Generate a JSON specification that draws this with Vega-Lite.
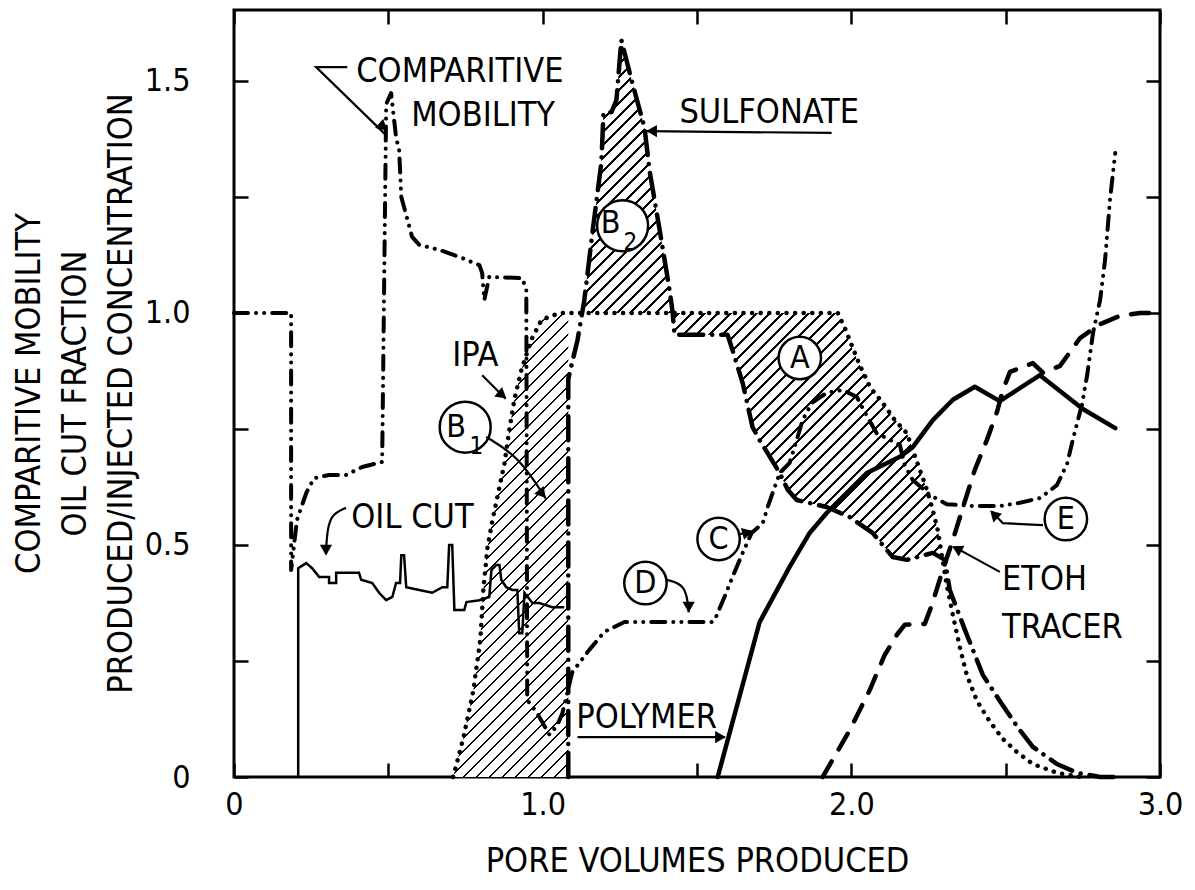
{
"$schema":"https://vega.github.io/schema/vega-lite/v6.json",
"width":926,"height":767,
"autosize":{"type":"none"},
"padding":{"left":234,"top":10,"right":35,"bottom":113},
"background":"white",
"config":{"view":{"stroke":"#000","strokeWidth":3},"font":"Liberation Sans Narrow, DejaVu Sans Condensed, Liberation Sans, sans-serif"},
"datasets":{
"b1":[{"x":0.710,"y":0,"y2":0},{"x":0.743,"y":0.084,"y2":0},{"x":0.775,"y":0.185,"y2":0},{"x":0.798,"y":0.295,"y2":0},{"x":0.808,"y":0.405,"y2":0},{"x":0.821,"y":0.494,"y2":0},{"x":0.837,"y":0.552,"y2":0},{"x":0.860,"y":0.625,"y2":0},{"x":0.876,"y":0.675,"y2":0},{"x":0.892,"y":0.748,"y2":0},{"x":0.908,"y":0.8125,"y2":0},{"x":0.931,"y":0.877,"y2":0},{"x":0.963,"y":0.942,"y2":0},{"x":0.996,"y":0.985,"y2":0},{"x":1.054,"y":1.0,"y2":0},{"x":1.083,"y":1.0,"y2":0}],
"b2":[{"x":1.135,"y":1.028,"y2":1},{"x":1.161,"y":1.172,"y2":1},{"x":1.190,"y":1.323,"y2":1},{"x":1.197,"y":1.431,"y2":1},{"x":1.223,"y":1.433,"y2":1},{"x":1.239,"y":1.459,"y2":1},{"x":1.255,"y":1.588,"y2":1},{"x":1.288,"y":1.502,"y2":1},{"x":1.330,"y":1.399,"y2":1},{"x":1.346,"y":1.308,"y2":1},{"x":1.379,"y":1.179,"y2":1},{"x":1.411,"y":1.05,"y2":1},{"x":1.421,"y":1.002,"y2":1}],
"ra":[{"x":1.421,"y":1.0,"y2":1.0},{"x":1.427,"y":1.0,"y2":0.953},{"x":1.599,"y":1.0,"y2":0.953},{"x":1.615,"y":1.0,"y2":0.920},{"x":1.648,"y":1.0,"y2":0.849},{"x":1.680,"y":1.0,"y2":0.754},{"x":1.703,"y":1.0,"y2":0.726},{"x":1.768,"y":1.0,"y2":0.655},{"x":1.794,"y":1.0,"y2":0.619},{"x":1.823,"y":1.0,"y2":0.597},{"x":1.920,"y":1.0,"y2":0.582},{"x":1.956,"y":1.0,"y2":0.571},{"x":1.995,"y":0.935,"y2":0.560},{"x":2.027,"y":0.888,"y2":0.545},{"x":2.069,"y":0.834,"y2":0.526},{"x":2.102,"y":0.806,"y2":0.500},{"x":2.134,"y":0.776,"y2":0.474},{"x":2.180,"y":0.741,"y2":0.468},{"x":2.199,"y":0.705,"y2":0.472},{"x":2.222,"y":0.662,"y2":0.476},{"x":2.245,"y":0.619,"y2":0.480},{"x":2.264,"y":0.575,"y2":0.483},{"x":2.280,"y":0.532,"y2":0.477},{"x":2.297,"y":0.470,"y2":0.470}],
"mob":[{"x":0,"y":1},{"x":0.185,"y":1},{"x":0.185,"y":0.446},{"x":0.204,"y":0.554},{"x":0.234,"y":0.612},{"x":0.259,"y":0.644},{"x":0.308,"y":0.651},{"x":0.363,"y":0.651},{"x":0.415,"y":0.668},{"x":0.480,"y":0.679},{"x":0.493,"y":1.45},{"x":0.509,"y":1.474},{"x":0.525,"y":1.379},{"x":0.535,"y":1.351},{"x":0.542,"y":1.25},{"x":0.577,"y":1.164},{"x":0.600,"y":1.147},{"x":0.665,"y":1.136},{"x":0.730,"y":1.121},{"x":0.795,"y":1.103},{"x":0.804,"y":1.086},{"x":0.811,"y":1.028},{"x":0.827,"y":1.078},{"x":0.934,"y":1.075},{"x":0.947,"y":1.05},{"x":0.950,"y":0.166},{"x":0.980,"y":0.140},{"x":1.022,"y":0.091},{"x":1.048,"y":0.112},{"x":1.064,"y":0.138},{"x":1.096,"y":0.226},{"x":1.151,"y":0.274},{"x":1.200,"y":0.313},{"x":1.265,"y":0.334},{"x":1.547,"y":0.334},{"x":1.557,"y":0.338},{"x":1.589,"y":0.388},{"x":1.615,"y":0.431},{"x":1.648,"y":0.483},{"x":1.677,"y":0.526},{"x":1.713,"y":0.547},{"x":1.729,"y":0.582},{"x":1.768,"y":0.655},{"x":1.800,"y":0.677},{"x":1.823,"y":0.726},{"x":1.842,"y":0.769},{"x":1.872,"y":0.806},{"x":1.920,"y":0.828},{"x":1.972,"y":0.834},{"x":2.018,"y":0.819},{"x":2.043,"y":0.787},{"x":2.082,"y":0.741},{"x":2.157,"y":0.716},{"x":2.173,"y":0.672},{"x":2.199,"y":0.640},{"x":2.254,"y":0.608},{"x":2.309,"y":0.588},{"x":2.394,"y":0.584},{"x":2.481,"y":0.584},{"x":2.546,"y":0.591},{"x":2.611,"y":0.601},{"x":2.666,"y":0.629},{"x":2.699,"y":0.675},{"x":2.718,"y":0.728},{"x":2.747,"y":0.802},{"x":2.764,"y":0.866},{"x":2.783,"y":0.957},{"x":2.806,"y":1.028},{"x":2.822,"y":1.114},{"x":2.838,"y":1.244},{"x":2.855,"y":1.345}],
"sulf":[{"x":1.083,"y":0},{"x":1.083,"y":0.858},{"x":1.113,"y":0.942},{"x":1.135,"y":1.028},{"x":1.161,"y":1.172},{"x":1.190,"y":1.323},{"x":1.197,"y":1.431},{"x":1.223,"y":1.433},{"x":1.239,"y":1.459},{"x":1.255,"y":1.588},{"x":1.288,"y":1.502},{"x":1.330,"y":1.399},{"x":1.346,"y":1.308},{"x":1.379,"y":1.179},{"x":1.411,"y":1.05},{"x":1.421,"y":1.002},{"x":1.427,"y":0.953},{"x":1.599,"y":0.953},{"x":1.615,"y":0.920},{"x":1.648,"y":0.849},{"x":1.680,"y":0.754},{"x":1.703,"y":0.726},{"x":1.768,"y":0.655},{"x":1.794,"y":0.619},{"x":1.823,"y":0.597},{"x":1.920,"y":0.582},{"x":1.995,"y":0.560},{"x":2.069,"y":0.526},{"x":2.134,"y":0.474},{"x":2.180,"y":0.468},{"x":2.264,"y":0.483},{"x":2.303,"y":0.468},{"x":2.319,"y":0.403},{"x":2.368,"y":0.317},{"x":2.426,"y":0.220},{"x":2.481,"y":0.164},{"x":2.536,"y":0.110},{"x":2.588,"y":0.065},{"x":2.666,"y":0.028},{"x":2.731,"y":0.009},{"x":2.806,"y":0},{"x":2.854,"y":0}],
"ipa":[{"x":0.710,"y":0},{"x":0.743,"y":0.084},{"x":0.775,"y":0.185},{"x":0.798,"y":0.295},{"x":0.808,"y":0.405},{"x":0.821,"y":0.494},{"x":0.837,"y":0.552},{"x":0.860,"y":0.625},{"x":0.876,"y":0.675},{"x":0.892,"y":0.748},{"x":0.908,"y":0.8125},{"x":0.931,"y":0.877},{"x":0.963,"y":0.942},{"x":0.996,"y":0.985},{"x":1.054,"y":1.0},{"x":1.956,"y":1.0},{"x":1.979,"y":0.968},{"x":2.001,"y":0.931},{"x":2.027,"y":0.888},{"x":2.060,"y":0.841},{"x":2.102,"y":0.806},{"x":2.141,"y":0.769},{"x":2.180,"y":0.741},{"x":2.199,"y":0.705},{"x":2.222,"y":0.662},{"x":2.245,"y":0.619},{"x":2.264,"y":0.575},{"x":2.280,"y":0.532},{"x":2.293,"y":0.478},{"x":2.309,"y":0.414},{"x":2.329,"y":0.349},{"x":2.352,"y":0.278},{"x":2.374,"y":0.220},{"x":2.407,"y":0.164},{"x":2.449,"y":0.119},{"x":2.491,"y":0.082},{"x":2.536,"y":0.054},{"x":2.588,"y":0.028},{"x":2.666,"y":0.009},{"x":2.741,"y":0}],
"poly":[{"x":1.567,"y":0},{"x":1.703,"y":0.334},{"x":1.800,"y":0.453},{"x":1.865,"y":0.526},{"x":1.920,"y":0.569},{"x":2.050,"y":0.655},{"x":2.157,"y":0.690},{"x":2.199,"y":0.711},{"x":2.264,"y":0.769},{"x":2.329,"y":0.813},{"x":2.400,"y":0.841},{"x":2.481,"y":0.810},{"x":2.611,"y":0.866},{"x":2.750,"y":0.793},{"x":2.855,"y":0.752}],
"etoh":[{"x":1.907,"y":0},{"x":1.995,"y":0.101},{"x":2.060,"y":0.188},{"x":2.108,"y":0.263},{"x":2.147,"y":0.306},{"x":2.173,"y":0.328},{"x":2.238,"y":0.330},{"x":2.261,"y":0.371},{"x":2.296,"y":0.446},{"x":2.329,"y":0.511},{"x":2.361,"y":0.580},{"x":2.400,"y":0.662},{"x":2.439,"y":0.726},{"x":2.472,"y":0.787},{"x":2.491,"y":0.834},{"x":2.514,"y":0.873},{"x":2.588,"y":0.892},{"x":2.621,"y":0.871},{"x":2.676,"y":0.886},{"x":2.741,"y":0.946},{"x":2.806,"y":0.976},{"x":2.871,"y":0.994},{"x":2.935,"y":1.0},{"x":3.0,"y":1.0}],
"oil":[{"x":0.208,"y":0},{"x":0.208,"y":0.450},{"x":0.234,"y":0.461},{"x":0.253,"y":0.450},{"x":0.276,"y":0.431},{"x":0.308,"y":0.431},{"x":0.308,"y":0.418},{"x":0.331,"y":0.418},{"x":0.331,"y":0.440},{"x":0.405,"y":0.440},{"x":0.412,"y":0.425},{"x":0.448,"y":0.418},{"x":0.470,"y":0.397},{"x":0.493,"y":0.381},{"x":0.513,"y":0.388},{"x":0.525,"y":0.418},{"x":0.538,"y":0.418},{"x":0.542,"y":0.478},{"x":0.551,"y":0.478},{"x":0.558,"y":0.409},{"x":0.600,"y":0.403},{"x":0.642,"y":0.397},{"x":0.675,"y":0.409},{"x":0.691,"y":0.409},{"x":0.697,"y":0.500},{"x":0.707,"y":0.500},{"x":0.714,"y":0.360},{"x":0.746,"y":0.360},{"x":0.753,"y":0.377},{"x":0.795,"y":0.381},{"x":0.827,"y":0.388},{"x":0.834,"y":0.446},{"x":0.850,"y":0.457},{"x":0.860,"y":0.457},{"x":0.866,"y":0.425},{"x":0.882,"y":0.409},{"x":0.902,"y":0.403},{"x":0.918,"y":0.403},{"x":0.924,"y":0.310},{"x":0.934,"y":0.310},{"x":0.941,"y":0.397},{"x":0.967,"y":0.375},{"x":0.989,"y":0.375},{"x":1.031,"y":0.366},{"x":1.070,"y":0.366}],
"notes":[{"id":"m","x":0.367,"y":1.530},{"id":"m","x":0.266,"y":1.530},{"id":"m","x":0.490,"y":1.385},{"id":"s","x":1.936,"y":1.388},{"id":"s","x":1.335,"y":1.392},{"id":"i","x":0.804,"y":0.866},{"id":"i","x":0.880,"y":0.815},{"id":"p","x":1.113,"y":0.086},{"id":"p","x":1.590,"y":0.086},{"id":"c","x":1.632,"y":0.522},{"id":"c","x":1.675,"y":0.530},{"id":"e","x":2.621,"y":0.543},{"id":"e","x":2.491,"y":0.547},{"id":"e","x":2.455,"y":0.572},{"id":"t","x":2.481,"y":0.442},{"id":"t","x":2.333,"y":0.496}],
"curvedNotes":[{"id":"b","x":0.817,"y":0.733},{"id":"b","x":0.924,"y":0.690},{"id":"b","x":1.010,"y":0.600},{"id":"o","x":0.363,"y":0.580},{"id":"o","x":0.310,"y":0.565},{"id":"o","x":0.300,"y":0.515},{"id":"o","x":0.298,"y":0.480},{"id":"d","x":1.401,"y":0.425},{"id":"d","x":1.465,"y":0.415},{"id":"d","x":1.473,"y":0.355}],
"heads":[{"x":0.483,"y":1.401,"deg":42},{"x":1.353,"y":1.392,"deg":180},{"x":0.869,"y":0.823,"deg":40},{"x":0.999,"y":0.610,"deg":50},{"x":0.298,"y":0.489,"deg":90},{"x":1.576,"y":0.086,"deg":0},{"x":1.664,"y":0.527,"deg":-15},{"x":1.473,"y":0.366,"deg":90},{"x":2.462,"y":0.566,"deg":225},{"x":2.342,"y":0.492,"deg":208}],
"circ":[{"x":1.833,"y":0.903},{"x":1.570,"y":0.513},{"x":1.333,"y":0.418},{"x":2.695,"y":0.556}],
"circB":[{"x":0.749,"y":0.754},{"x":1.259,"y":1.188}],
"labels":[{"t":"COMPARITIVE","x":0.396,"y":1.498},{"t":"MOBILITY","x":0.574,"y":1.403},{"t":"SULFONATE","x":1.443,"y":1.409},{"t":"IPA","x":0.707,"y":0.886},{"t":"OIL CUT","x":0.380,"y":0.537},{"t":"POLYMER","x":1.109,"y":0.106},{"t":"ETOH","x":2.488,"y":0.403},{"t":"TRACER","x":2.488,"y":0.300}],
"letters":[{"t":"A","x":1.833,"y":0.903},{"t":"B","x":0.720,"y":0.754},{"t":"B","x":1.220,"y":1.194},{"t":"C","x":1.570,"y":0.513},{"t":"D","x":1.333,"y":0.418},{"t":"E","x":2.695,"y":0.556}],
"subs":[{"t":"1","x":0.785,"y":0.711},{"t":"2","x":1.284,"y":1.151}]
},
"encoding":{
"x":{"field":"x","type":"quantitative","scale":{"domain":[0,3],"nice":false,"zero":false},"axis":null},
"y":{"field":"y","type":"quantitative","scale":{"domain":[0,1.653],"nice":false,"zero":false},"axis":null}
},
"layer":[
{"data":{"name":"b1"},
"mark":{"type":"area","fill":{"gradient":"linear","x1":0,"y1":0,"x2":0.3274,"y2":1.3197,"stops":[{"offset":0,"color":"#fff"},
{"offset":0.008,"color":"#fff"},{"offset":0.008,"color":"#000"},{"offset":0.012,"color":"#000"},{"offset":0.012,"color":"#fff"},
{"offset":0.028,"color":"#fff"},{"offset":0.028,"color":"#000"},{"offset":0.032,"color":"#000"},{"offset":0.032,"color":"#fff"},
{"offset":0.048,"color":"#fff"},{"offset":0.048,"color":"#000"},{"offset":0.052,"color":"#000"},{"offset":0.052,"color":"#fff"},
{"offset":0.068,"color":"#fff"},{"offset":0.068,"color":"#000"},{"offset":0.072,"color":"#000"},{"offset":0.072,"color":"#fff"},
{"offset":0.088,"color":"#fff"},{"offset":0.088,"color":"#000"},{"offset":0.092,"color":"#000"},{"offset":0.092,"color":"#fff"},
{"offset":0.108,"color":"#fff"},{"offset":0.108,"color":"#000"},{"offset":0.112,"color":"#000"},{"offset":0.112,"color":"#fff"},
{"offset":0.128,"color":"#fff"},{"offset":0.128,"color":"#000"},{"offset":0.132,"color":"#000"},{"offset":0.132,"color":"#fff"},
{"offset":0.148,"color":"#fff"},{"offset":0.148,"color":"#000"},{"offset":0.152,"color":"#000"},{"offset":0.152,"color":"#fff"},
{"offset":0.168,"color":"#fff"},{"offset":0.168,"color":"#000"},{"offset":0.172,"color":"#000"},{"offset":0.172,"color":"#fff"},
{"offset":0.188,"color":"#fff"},{"offset":0.188,"color":"#000"},{"offset":0.192,"color":"#000"},{"offset":0.192,"color":"#fff"},
{"offset":0.208,"color":"#fff"},{"offset":0.208,"color":"#000"},{"offset":0.212,"color":"#000"},{"offset":0.212,"color":"#fff"},
{"offset":0.228,"color":"#fff"},{"offset":0.228,"color":"#000"},{"offset":0.232,"color":"#000"},{"offset":0.232,"color":"#fff"},
{"offset":0.248,"color":"#fff"},{"offset":0.248,"color":"#000"},{"offset":0.252,"color":"#000"},{"offset":0.252,"color":"#fff"},
{"offset":0.268,"color":"#fff"},{"offset":0.268,"color":"#000"},{"offset":0.272,"color":"#000"},{"offset":0.272,"color":"#fff"},
{"offset":0.288,"color":"#fff"},{"offset":0.288,"color":"#000"},{"offset":0.292,"color":"#000"},{"offset":0.292,"color":"#fff"},
{"offset":0.308,"color":"#fff"},{"offset":0.308,"color":"#000"},{"offset":0.312,"color":"#000"},{"offset":0.312,"color":"#fff"},
{"offset":0.328,"color":"#fff"},{"offset":0.328,"color":"#000"},{"offset":0.332,"color":"#000"},{"offset":0.332,"color":"#fff"},
{"offset":0.348,"color":"#fff"},{"offset":0.348,"color":"#000"},{"offset":0.352,"color":"#000"},{"offset":0.352,"color":"#fff"},
{"offset":0.368,"color":"#fff"},{"offset":0.368,"color":"#000"},{"offset":0.372,"color":"#000"},{"offset":0.372,"color":"#fff"},
{"offset":0.388,"color":"#fff"},{"offset":0.388,"color":"#000"},{"offset":0.392,"color":"#000"},{"offset":0.392,"color":"#fff"},
{"offset":0.408,"color":"#fff"},{"offset":0.408,"color":"#000"},{"offset":0.412,"color":"#000"},{"offset":0.412,"color":"#fff"},
{"offset":0.428,"color":"#fff"},{"offset":0.428,"color":"#000"},{"offset":0.432,"color":"#000"},{"offset":0.432,"color":"#fff"},
{"offset":0.448,"color":"#fff"},{"offset":0.448,"color":"#000"},{"offset":0.452,"color":"#000"},{"offset":0.452,"color":"#fff"},
{"offset":0.468,"color":"#fff"},{"offset":0.468,"color":"#000"},{"offset":0.472,"color":"#000"},{"offset":0.472,"color":"#fff"},
{"offset":0.488,"color":"#fff"},{"offset":0.488,"color":"#000"},{"offset":0.492,"color":"#000"},{"offset":0.492,"color":"#fff"},
{"offset":0.508,"color":"#fff"},{"offset":0.508,"color":"#000"},{"offset":0.512,"color":"#000"},{"offset":0.512,"color":"#fff"},
{"offset":0.528,"color":"#fff"},{"offset":0.528,"color":"#000"},{"offset":0.532,"color":"#000"},{"offset":0.532,"color":"#fff"},
{"offset":0.548,"color":"#fff"},{"offset":0.548,"color":"#000"},{"offset":0.552,"color":"#000"},{"offset":0.552,"color":"#fff"},
{"offset":0.568,"color":"#fff"},{"offset":0.568,"color":"#000"},{"offset":0.572,"color":"#000"},{"offset":0.572,"color":"#fff"},
{"offset":0.588,"color":"#fff"},{"offset":0.588,"color":"#000"},{"offset":0.592,"color":"#000"},{"offset":0.592,"color":"#fff"},
{"offset":0.608,"color":"#fff"},{"offset":0.608,"color":"#000"},{"offset":0.612,"color":"#000"},{"offset":0.612,"color":"#fff"},
{"offset":0.628,"color":"#fff"},{"offset":0.628,"color":"#000"},{"offset":0.632,"color":"#000"},{"offset":0.632,"color":"#fff"},
{"offset":0.648,"color":"#fff"},{"offset":0.648,"color":"#000"},{"offset":0.652,"color":"#000"},{"offset":0.652,"color":"#fff"},
{"offset":0.668,"color":"#fff"},{"offset":0.668,"color":"#000"},{"offset":0.672,"color":"#000"},{"offset":0.672,"color":"#fff"},
{"offset":0.688,"color":"#fff"},{"offset":0.688,"color":"#000"},{"offset":0.692,"color":"#000"},{"offset":0.692,"color":"#fff"},
{"offset":0.708,"color":"#fff"},{"offset":0.708,"color":"#000"},{"offset":0.712,"color":"#000"},{"offset":0.712,"color":"#fff"},
{"offset":0.728,"color":"#fff"},{"offset":0.728,"color":"#000"},{"offset":0.732,"color":"#000"},{"offset":0.732,"color":"#fff"},
{"offset":0.748,"color":"#fff"},{"offset":0.748,"color":"#000"},{"offset":0.752,"color":"#000"},{"offset":0.752,"color":"#fff"},
{"offset":0.768,"color":"#fff"},{"offset":0.768,"color":"#000"},{"offset":0.772,"color":"#000"},{"offset":0.772,"color":"#fff"},
{"offset":0.788,"color":"#fff"},{"offset":0.788,"color":"#000"},{"offset":0.792,"color":"#000"},{"offset":0.792,"color":"#fff"},
{"offset":0.808,"color":"#fff"},{"offset":0.808,"color":"#000"},{"offset":0.812,"color":"#000"},{"offset":0.812,"color":"#fff"},
{"offset":0.828,"color":"#fff"},{"offset":0.828,"color":"#000"},{"offset":0.832,"color":"#000"},{"offset":0.832,"color":"#fff"},
{"offset":0.848,"color":"#fff"},{"offset":0.848,"color":"#000"},{"offset":0.852,"color":"#000"},{"offset":0.852,"color":"#fff"},
{"offset":0.868,"color":"#fff"},{"offset":0.868,"color":"#000"},{"offset":0.872,"color":"#000"},{"offset":0.872,"color":"#fff"},
{"offset":0.888,"color":"#fff"},{"offset":0.888,"color":"#000"},{"offset":0.892,"color":"#000"},{"offset":0.892,"color":"#fff"},
{"offset":1,"color":"#fff"}]}},
"encoding":{
"x":{"field":"x","type":"quantitative","axis":{"orient":"bottom","values":[0,0.5,1,1.5,2,2.5,3],"labelExpr":"datum.value==0?'0':(datum.value%1==0?format(datum.value,'.1f'):'')","tickSize":-14,"tickWidth":2.5,"tickColor":"#000","domain":false,"grid":false,"labelFontSize":32,"labelColor":"#000","labelPadding":26,"labelFlush":false,"labelOverlap":false,"title":"PORE VOLUMES PRODUCED","titleFontSize":34,"titleFontWeight":"normal","titleColor":"#000","titlePadding":24}},
"y":{"field":"y","type":"quantitative","axis":{"orient":"left","values":[0,0.25,0.5,0.75,1,1.25,1.5],"labelExpr":"datum.value==0?'0':(datum.value%0.5==0?format(datum.value,'.1f'):'')","tickSize":-14,"tickWidth":2.5,"tickColor":"#000","domain":false,"grid":false,"labelFontSize":32,"labelColor":"#000","labelPadding":58,"labelFlush":false,"labelOverlap":false,"title":["COMPARITIVE MOBILITY","OIL CUT FRACTION","PRODUCED/INJECTED CONCENTRATION"],"titleFontSize":34,"titleFontWeight":"normal","titleColor":"#000","titleAngle":-90,"titleX":-205,"titleY":383,"titleAlign":"center","titleBaseline":"middle","titleLineHeight":46}},
"y2":{"field":"y2"}}},
{"data":{"name":"b2"},
"mark":{"type":"area","fill":{"gradient":"linear","x1":0,"y1":0,"x2":0.698,"y2":2.157,"stops":[{"offset":0,"color":"#fff"},
{"offset":0.008,"color":"#fff"},{"offset":0.008,"color":"#000"},{"offset":0.012,"color":"#000"},{"offset":0.012,"color":"#fff"},
{"offset":0.028,"color":"#fff"},{"offset":0.028,"color":"#000"},{"offset":0.032,"color":"#000"},{"offset":0.032,"color":"#fff"},
{"offset":0.048,"color":"#fff"},{"offset":0.048,"color":"#000"},{"offset":0.052,"color":"#000"},{"offset":0.052,"color":"#fff"},
{"offset":0.068,"color":"#fff"},{"offset":0.068,"color":"#000"},{"offset":0.072,"color":"#000"},{"offset":0.072,"color":"#fff"},
{"offset":0.088,"color":"#fff"},{"offset":0.088,"color":"#000"},{"offset":0.092,"color":"#000"},{"offset":0.092,"color":"#fff"},
{"offset":0.108,"color":"#fff"},{"offset":0.108,"color":"#000"},{"offset":0.112,"color":"#000"},{"offset":0.112,"color":"#fff"},
{"offset":0.128,"color":"#fff"},{"offset":0.128,"color":"#000"},{"offset":0.132,"color":"#000"},{"offset":0.132,"color":"#fff"},
{"offset":0.148,"color":"#fff"},{"offset":0.148,"color":"#000"},{"offset":0.152,"color":"#000"},{"offset":0.152,"color":"#fff"},
{"offset":0.168,"color":"#fff"},{"offset":0.168,"color":"#000"},{"offset":0.172,"color":"#000"},{"offset":0.172,"color":"#fff"},
{"offset":0.188,"color":"#fff"},{"offset":0.188,"color":"#000"},{"offset":0.192,"color":"#000"},{"offset":0.192,"color":"#fff"},
{"offset":0.208,"color":"#fff"},{"offset":0.208,"color":"#000"},{"offset":0.212,"color":"#000"},{"offset":0.212,"color":"#fff"},
{"offset":0.228,"color":"#fff"},{"offset":0.228,"color":"#000"},{"offset":0.232,"color":"#000"},{"offset":0.232,"color":"#fff"},
{"offset":0.248,"color":"#fff"},{"offset":0.248,"color":"#000"},{"offset":0.252,"color":"#000"},{"offset":0.252,"color":"#fff"},
{"offset":0.268,"color":"#fff"},{"offset":0.268,"color":"#000"},{"offset":0.272,"color":"#000"},{"offset":0.272,"color":"#fff"},
{"offset":0.288,"color":"#fff"},{"offset":0.288,"color":"#000"},{"offset":0.292,"color":"#000"},{"offset":0.292,"color":"#fff"},
{"offset":0.308,"color":"#fff"},{"offset":0.308,"color":"#000"},{"offset":0.312,"color":"#000"},{"offset":0.312,"color":"#fff"},
{"offset":0.328,"color":"#fff"},{"offset":0.328,"color":"#000"},{"offset":0.332,"color":"#000"},{"offset":0.332,"color":"#fff"},
{"offset":0.348,"color":"#fff"},{"offset":0.348,"color":"#000"},{"offset":0.352,"color":"#000"},{"offset":0.352,"color":"#fff"},
{"offset":0.368,"color":"#fff"},{"offset":0.368,"color":"#000"},{"offset":0.372,"color":"#000"},{"offset":0.372,"color":"#fff"},
{"offset":0.388,"color":"#fff"},{"offset":0.388,"color":"#000"},{"offset":0.392,"color":"#000"},{"offset":0.392,"color":"#fff"},
{"offset":0.408,"color":"#fff"},{"offset":0.408,"color":"#000"},{"offset":0.412,"color":"#000"},{"offset":0.412,"color":"#fff"},
{"offset":0.428,"color":"#fff"},{"offset":0.428,"color":"#000"},{"offset":0.432,"color":"#000"},{"offset":0.432,"color":"#fff"},
{"offset":0.448,"color":"#fff"},{"offset":0.448,"color":"#000"},{"offset":0.452,"color":"#000"},{"offset":0.452,"color":"#fff"},
{"offset":0.468,"color":"#fff"},{"offset":0.468,"color":"#000"},{"offset":0.472,"color":"#000"},{"offset":0.472,"color":"#fff"},
{"offset":0.488,"color":"#fff"},{"offset":0.488,"color":"#000"},{"offset":0.492,"color":"#000"},{"offset":0.492,"color":"#fff"},
{"offset":0.508,"color":"#fff"},{"offset":0.508,"color":"#000"},{"offset":0.512,"color":"#000"},{"offset":0.512,"color":"#fff"},
{"offset":0.528,"color":"#fff"},{"offset":0.528,"color":"#000"},{"offset":0.532,"color":"#000"},{"offset":0.532,"color":"#fff"},
{"offset":0.548,"color":"#fff"},{"offset":0.548,"color":"#000"},{"offset":0.552,"color":"#000"},{"offset":0.552,"color":"#fff"},
{"offset":0.568,"color":"#fff"},{"offset":0.568,"color":"#000"},{"offset":0.572,"color":"#000"},{"offset":0.572,"color":"#fff"},
{"offset":1,"color":"#fff"}]}},
"encoding":{
"x":{"field":"x","type":"quantitative","axis":{"orient":"top","values":[0,0.5,1,1.5,2,2.5,3],"labels":false,"tickSize":-14,"tickWidth":2.5,"tickColor":"#000","domain":false,"grid":false,"title":null}},
"y":{"field":"y","type":"quantitative","axis":{"orient":"right","values":[0,0.25,0.5,0.75,1,1.25,1.5],"labels":false,"tickSize":-14,"tickWidth":2.5,"tickColor":"#000","domain":false,"grid":false,"title":null}},
"y2":{"field":"y2"}}},
{"data":{"name":"ra"},
"mark":{"type":"area","fill":{"gradient":"linear","x1":0,"y1":0,"x2":1.311,"y2":1.197,"stops":[{"offset":0,"color":"#fff"},
{"offset":0.008,"color":"#fff"},{"offset":0.008,"color":"#000"},{"offset":0.012,"color":"#000"},{"offset":0.012,"color":"#fff"},
{"offset":0.028,"color":"#fff"},{"offset":0.028,"color":"#000"},{"offset":0.032,"color":"#000"},{"offset":0.032,"color":"#fff"},
{"offset":0.048,"color":"#fff"},{"offset":0.048,"color":"#000"},{"offset":0.052,"color":"#000"},{"offset":0.052,"color":"#fff"},
{"offset":0.068,"color":"#fff"},{"offset":0.068,"color":"#000"},{"offset":0.072,"color":"#000"},{"offset":0.072,"color":"#fff"},
{"offset":0.088,"color":"#fff"},{"offset":0.088,"color":"#000"},{"offset":0.092,"color":"#000"},{"offset":0.092,"color":"#fff"},
{"offset":0.108,"color":"#fff"},{"offset":0.108,"color":"#000"},{"offset":0.112,"color":"#000"},{"offset":0.112,"color":"#fff"},
{"offset":0.128,"color":"#fff"},{"offset":0.128,"color":"#000"},{"offset":0.132,"color":"#000"},{"offset":0.132,"color":"#fff"},
{"offset":0.148,"color":"#fff"},{"offset":0.148,"color":"#000"},{"offset":0.152,"color":"#000"},{"offset":0.152,"color":"#fff"},
{"offset":0.168,"color":"#fff"},{"offset":0.168,"color":"#000"},{"offset":0.172,"color":"#000"},{"offset":0.172,"color":"#fff"},
{"offset":0.188,"color":"#fff"},{"offset":0.188,"color":"#000"},{"offset":0.192,"color":"#000"},{"offset":0.192,"color":"#fff"},
{"offset":0.208,"color":"#fff"},{"offset":0.208,"color":"#000"},{"offset":0.212,"color":"#000"},{"offset":0.212,"color":"#fff"},
{"offset":0.228,"color":"#fff"},{"offset":0.228,"color":"#000"},{"offset":0.232,"color":"#000"},{"offset":0.232,"color":"#fff"},
{"offset":0.248,"color":"#fff"},{"offset":0.248,"color":"#000"},{"offset":0.252,"color":"#000"},{"offset":0.252,"color":"#fff"},
{"offset":0.268,"color":"#fff"},{"offset":0.268,"color":"#000"},{"offset":0.272,"color":"#000"},{"offset":0.272,"color":"#fff"},
{"offset":0.288,"color":"#fff"},{"offset":0.288,"color":"#000"},{"offset":0.292,"color":"#000"},{"offset":0.292,"color":"#fff"},
{"offset":0.308,"color":"#fff"},{"offset":0.308,"color":"#000"},{"offset":0.312,"color":"#000"},{"offset":0.312,"color":"#fff"},
{"offset":0.328,"color":"#fff"},{"offset":0.328,"color":"#000"},{"offset":0.332,"color":"#000"},{"offset":0.332,"color":"#fff"},
{"offset":0.348,"color":"#fff"},{"offset":0.348,"color":"#000"},{"offset":0.352,"color":"#000"},{"offset":0.352,"color":"#fff"},
{"offset":0.368,"color":"#fff"},{"offset":0.368,"color":"#000"},{"offset":0.372,"color":"#000"},{"offset":0.372,"color":"#fff"},
{"offset":0.388,"color":"#fff"},{"offset":0.388,"color":"#000"},{"offset":0.392,"color":"#000"},{"offset":0.392,"color":"#fff"},
{"offset":0.408,"color":"#fff"},{"offset":0.408,"color":"#000"},{"offset":0.412,"color":"#000"},{"offset":0.412,"color":"#fff"},
{"offset":0.428,"color":"#fff"},{"offset":0.428,"color":"#000"},{"offset":0.432,"color":"#000"},{"offset":0.432,"color":"#fff"},
{"offset":0.448,"color":"#fff"},{"offset":0.448,"color":"#000"},{"offset":0.452,"color":"#000"},{"offset":0.452,"color":"#fff"},
{"offset":0.468,"color":"#fff"},{"offset":0.468,"color":"#000"},{"offset":0.472,"color":"#000"},{"offset":0.472,"color":"#fff"},
{"offset":0.488,"color":"#fff"},{"offset":0.488,"color":"#000"},{"offset":0.492,"color":"#000"},{"offset":0.492,"color":"#fff"},
{"offset":0.508,"color":"#fff"},{"offset":0.508,"color":"#000"},{"offset":0.512,"color":"#000"},{"offset":0.512,"color":"#fff"},
{"offset":0.528,"color":"#fff"},{"offset":0.528,"color":"#000"},{"offset":0.532,"color":"#000"},{"offset":0.532,"color":"#fff"},
{"offset":0.548,"color":"#fff"},{"offset":0.548,"color":"#000"},{"offset":0.552,"color":"#000"},{"offset":0.552,"color":"#fff"},
{"offset":0.568,"color":"#fff"},{"offset":0.568,"color":"#000"},{"offset":0.572,"color":"#000"},{"offset":0.572,"color":"#fff"},
{"offset":0.588,"color":"#fff"},{"offset":0.588,"color":"#000"},{"offset":0.592,"color":"#000"},{"offset":0.592,"color":"#fff"},
{"offset":0.608,"color":"#fff"},{"offset":0.608,"color":"#000"},{"offset":0.612,"color":"#000"},{"offset":0.612,"color":"#fff"},
{"offset":0.628,"color":"#fff"},{"offset":0.628,"color":"#000"},{"offset":0.632,"color":"#000"},{"offset":0.632,"color":"#fff"},
{"offset":0.648,"color":"#fff"},{"offset":0.648,"color":"#000"},{"offset":0.652,"color":"#000"},{"offset":0.652,"color":"#fff"},
{"offset":0.668,"color":"#fff"},{"offset":0.668,"color":"#000"},{"offset":0.672,"color":"#000"},{"offset":0.672,"color":"#fff"},
{"offset":0.688,"color":"#fff"},{"offset":0.688,"color":"#000"},{"offset":0.692,"color":"#000"},{"offset":0.692,"color":"#fff"},
{"offset":0.708,"color":"#fff"},{"offset":0.708,"color":"#000"},{"offset":0.712,"color":"#000"},{"offset":0.712,"color":"#fff"},
{"offset":0.728,"color":"#fff"},{"offset":0.728,"color":"#000"},{"offset":0.732,"color":"#000"},{"offset":0.732,"color":"#fff"},
{"offset":0.748,"color":"#fff"},{"offset":0.748,"color":"#000"},{"offset":0.752,"color":"#000"},{"offset":0.752,"color":"#fff"},
{"offset":0.768,"color":"#fff"},{"offset":0.768,"color":"#000"},{"offset":0.772,"color":"#000"},{"offset":0.772,"color":"#fff"},
{"offset":0.788,"color":"#fff"},{"offset":0.788,"color":"#000"},{"offset":0.792,"color":"#000"},{"offset":0.792,"color":"#fff"},
{"offset":0.808,"color":"#fff"},{"offset":0.808,"color":"#000"},{"offset":0.812,"color":"#000"},{"offset":0.812,"color":"#fff"},
{"offset":1,"color":"#fff"}]}},
"encoding":{"y2":{"field":"y2"}}},
{"data":{"name":"circ"},"mark":{"type":"point","shape":"circle","filled":true,"fill":"#fff","stroke":"#000","strokeWidth":2.5,"size":1800,"opacity":1}},
{"data":{"name":"circB"},"mark":{"type":"point","shape":"circle","filled":true,"fill":"#fff","stroke":"#000","strokeWidth":2.5,"size":2600,"opacity":1}},
{"data":{"name":"mob"},"mark":{"type":"line","color":"#000","strokeWidth":4,"strokeCap":"round","strokeJoin":"round","strokeDash":[14,8,0.1,8,0.1,8]},"encoding":{"order":{"value":null}}},
{"data":{"name":"sulf"},"mark":{"type":"line","color":"#000","strokeWidth":4.5,"strokeCap":"round","strokeJoin":"round","strokeDash":[24,9,0.1,9]},"encoding":{"order":{"value":null}}},
{"data":{"name":"ipa"},"mark":{"type":"line","color":"#000","strokeWidth":4.5,"strokeCap":"round","strokeJoin":"round","strokeDash":[0.1,8.5]},"encoding":{"order":{"value":null}}},
{"data":{"name":"poly"},"mark":{"type":"line","color":"#000","strokeWidth":4.5,"strokeCap":"round","strokeJoin":"round"},"encoding":{"order":{"value":null}}},
{"data":{"name":"etoh"},"mark":{"type":"line","color":"#000","strokeWidth":4.5,"strokeCap":"round","strokeJoin":"round","strokeDash":[18,14]},"encoding":{"order":{"value":null}}},
{"data":{"name":"oil"},"mark":{"type":"line","color":"#000","strokeWidth":2.5,"strokeJoin":"miter"},"encoding":{"order":{"value":null}}},
{"data":{"name":"notes"},"mark":{"type":"line","color":"#000","strokeWidth":2.2,"interpolate":"linear"},"encoding":{"detail":{"field":"id"},"order":{"value":null}}},
{"data":{"name":"curvedNotes"},"mark":{"type":"line","color":"#000","strokeWidth":2.2,"interpolate":"basis"},"encoding":{"detail":{"field":"id"},"order":{"value":null}}},
{"data":{"name":"heads"},"mark":{"type":"point","shape":"triangle-right","filled":true,"color":"#000","size":150,"opacity":1},"encoding":{"angle":{"field":"deg","type":"quantitative","scale":null}}},
{"data":{"name":"labels"},"mark":{"type":"text","align":"left","baseline":"alphabetic","fontSize":34,"color":"#000","font":"Liberation Sans Narrow, DejaVu Sans Condensed, Liberation Sans, sans-serif"},"encoding":{"text":{"field":"t"}}},
{"data":{"name":"letters"},"mark":{"type":"text","align":"center","baseline":"middle","fontSize":32,"color":"#000","font":"Liberation Sans Narrow, DejaVu Sans Condensed, Liberation Sans, sans-serif"},"encoding":{"text":{"field":"t"}}},
{"data":{"name":"subs"},"mark":{"type":"text","align":"center","baseline":"middle","fontSize":24,"color":"#000","font":"Liberation Sans Narrow, DejaVu Sans Condensed, Liberation Sans, sans-serif"},"encoding":{"text":{"field":"t"}}}
],
"resolve":{"axis":{"x":"independent","y":"independent"}}
}
